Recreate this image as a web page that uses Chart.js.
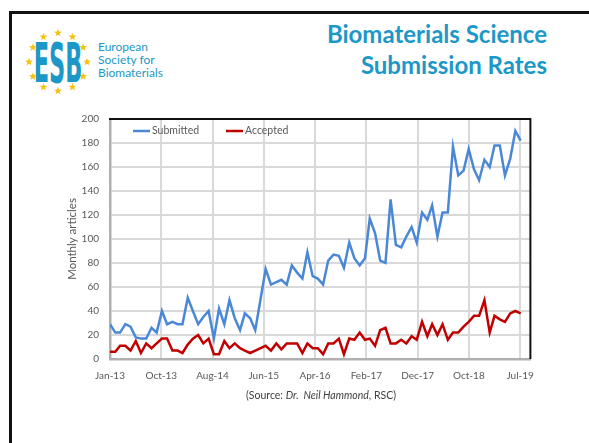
<!DOCTYPE html>
<html>
<head>
<meta charset="utf-8">
<script src="https://cdn.jsdelivr.net/npm/chart.js@4"></script>
<style>
  html, body { margin: 0; padding: 0; background: #fff; }
  body { width: 589px; height: 443px; position: relative; overflow: hidden; font-family: Lato, 'Open Sans', sans-serif; }
  .frame { position: absolute; left: 9px; top: 11px; width: 640px; height: 480px; border-top: 3px solid #111; border-left: 3px solid #111; }
  .title { position: absolute; right: 42px; top: 18px; text-align: right; color: #1c98c8; font-weight: bold; font-size: 24px; line-height: 31px; }
  .logo { position: absolute; left: 18px; top: 28px; }
  .logo-text { position: absolute; left: 98px; top: 40px; color: #1c98c8; font-size: 12px; line-height: 13px; }
  #chart-box { position: absolute; left: 55px; top: 102px; width: 490px; height: 288px; }
  #chart { display: block; }
  .source { position: absolute; left: 0; width: 642px; top: 389px; text-align: center; font-size: 10.5px; color: #404040; }
</style>
</head>
<body>
<div class="frame"></div>

<svg class="logo" width="80" height="70" viewBox="0 0 80 70">
  <g id="stars" fill="#f4c20d"></g>
  <text x="40" y="24.5" text-anchor="middle" fill="#1c98c8" font-family="'Liberation Sans Narrow', 'DejaVu Sans Condensed', sans-serif"
        font-weight="bold" font-size="25" transform="scale(1,2.2)">ESB</text>
</svg>
<div class="logo-text">European<br>Society for<br>Biomaterials</div>

<div class="title">Biomaterials Science<br>Submission Rates</div>

<div id="chart-box"><canvas id="chart" width="490" height="288"></canvas></div>

<div class="source">(Source: <i>Dr.&nbsp; Neil Hammond</i>, RSC)</div>

<script>
// monthly values, Jan 2013 onwards (one per month)
const submitted = [
    29, 22, 22, 29, 27, 18, 17, 17, 26, 22, 40,
    29, 31, 29, 29, 51, 40, 29, 35, 40, 17,
    42, 29, 49, 34, 24, 38, 34, 24, 50, 75,
    62, 64, 66, 62, 78, 72, 67, 89, 69, 67, 62,
    82, 87, 86, 76, 97, 84, 78, 84, 117, 105, 82, 80,
    133, 95, 93, 102, 110, 97, 122, 116, 128, 102, 122, 122, 177, 153, 157,
    175, 158, 149, 166, 160, 178, 178, 153, 167, 190, 182
];
const accepted = [
    6, 6, 11, 11, 7, 15, 5, 13, 9, 13, 17,
    17, 7, 7, 5, 12, 17, 20, 13, 17, 4,
    4, 15, 9, 13, 9, 7, 5, 7, 9, 11, 7,
    13, 8, 13, 13, 13, 5, 13, 9,
    9, 4, 13, 13, 17, 4, 17, 16, 22, 16, 17, 11, 24, 26, 13, 13, 16, 13, 19, 16,
    31, 19, 29, 20, 29, 16, 22, 22, 27, 31, 36, 36, 49, 22, 36, 33, 31, 38, 40, 38
];
const tickLabels = ['Jan-13', 'Oct-13', 'Aug-14', 'Jun-15', 'Apr-16', 'Feb-17', 'Dec-17', 'Oct-18', 'Jul-19'];
const tickStepDays = 300;
const yTicks = [0, 20, 40, 60, 80, 100, 120, 140, 160, 180, 200];

// date axis in days from 1 Jan 2013, like the spreadsheet
const DAY = 86400000;
const origin = Date.UTC(2013, 0, 1);
const months = submitted.map((_, i) => Date.UTC(2013, i, 1));
const days = months.map(t => (t - origin) / DAY);

const textGrey = '#595959';
const gridGrey = '#d9d9d9';
const axisGrey = '#b0b0b0';

// ring of stars round the logo letters
(function drawStars() {
    const g = document.getElementById('stars');
    let html = '';
    for (let k = 0; k < 12; k++) {
        const a = -Math.PI / 2 + k * Math.PI / 6;
        const cx = 40 + 29 * Math.cos(a), cy = 34 + 29 * Math.sin(a);
        const pts = [];
        for (let j = 0; j < 10; j++) {
            const r = j % 2 ? 1.7 : 4.1;
            const b = -Math.PI / 2 + j * Math.PI / 5;
            pts.push((cx + r * Math.cos(b)).toFixed(2) + ',' + (cy + r * Math.sin(b)).toFixed(2));
        }
        html += `<polygon points="${pts.join(' ')}"/>`;
    }
    g.innerHTML = html;
})();

// black top/right frame + legend inside the plot
const frameAndLegend = {
    id: 'frameAndLegend',
    afterDraw(chart) {
        const { ctx, chartArea: a } = chart;
        ctx.save();
        ctx.strokeStyle = '#111';
        ctx.lineWidth = 2;
        ctx.beginPath();
        ctx.moveTo(a.left - 1, a.top);
        ctx.lineTo(a.right, a.top);
        ctx.lineTo(a.right, a.bottom);
        ctx.stroke();

        ctx.font = '10.5px Lato';
        ctx.textBaseline = 'middle';
        let x = a.left + 23;
        const y = a.top + 12;
        chart.data.datasets.forEach(ds => {
            ctx.strokeStyle = ds.borderColor;
            ctx.lineWidth = 2.5;
            ctx.beginPath();
            ctx.moveTo(x, y);
            ctx.lineTo(x + 17, y);
            ctx.stroke();
            ctx.fillStyle = textGrey;
            ctx.fillText(ds.label, x + 19, y);
            x += 93;
        });
        ctx.restore();
    }
};

new Chart(document.getElementById('chart'), {
    type: 'line',
    data: {
        datasets: [
            {
                label: 'Submitted',
                data: submitted.map((v, i) => ({ x: days[i], y: v })),
                borderColor: '#4a88d6',
                backgroundColor: '#4a88d6',
                borderWidth: 2.5,
                pointRadius: 0,
                tension: 0
            },
            {
                label: 'Accepted',
                data: accepted.map((v, i) => ({ x: days[i], y: v })),
                borderColor: '#c00000',
                backgroundColor: '#c00000',
                borderWidth: 2.5,
                pointRadius: 0,
                tension: 0
            }
        ]
    },
    options: {
        responsive: false,
        animation: false,
        devicePixelRatio: 1,
        layout: { padding: { left: 0, top: 0, right: 8, bottom: 0 } },
        plugins: {
            legend: { display: false },
            tooltip: { enabled: false }
        },
        scales: {
            x: {
                type: 'linear',
                min: 0,
                max: 2460,
                afterBuildTicks: s => { s.ticks = tickLabels.map((_, k) => ({ value: k * tickStepDays })); },
                afterFit: s => { s.height = 31; },
                ticks: {
                    autoSkip: false,
                    maxRotation: 0,
                    padding: 11,
                    color: textGrey,
                    font: { family: 'Lato', size: 10 },
                    callback: (v, i) => tickLabels[i]
                },
                grid: { color: gridGrey, lineWidth: 2, drawTicks: false },
                border: { color: axisGrey, width: 2.5 }
            },
            y: {
                min: 0,
                max: 200,
                afterBuildTicks: s => { s.ticks = yTicks.map(v => ({ value: v })); },
                afterFit: s => { s.width = 55; },
                ticks: {
                    padding: 11,
                    color: textGrey,
                    font: { family: 'Lato', size: 10 }
                },
                title: {
                    display: true,
                    text: 'Monthly articles',
                    color: textGrey,
                    font: { family: 'Lato', size: 11.5 },
                    padding: { top: 10, bottom: 0 }
                },
                grid: { color: gridGrey, lineWidth: 2, drawTicks: false },
                border: { color: axisGrey, width: 2.5 }
            }
        }
    },
    plugins: [frameAndLegend]
});
</script>
</body>
</html>
